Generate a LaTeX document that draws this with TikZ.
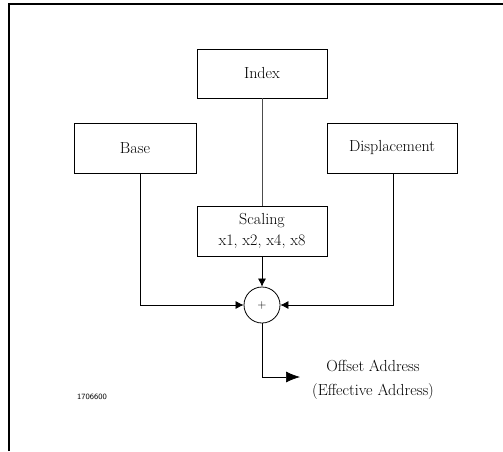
\documentclass[tikz,border=0pt]{standalone}
\usepackage{fontspec}
\usetikzlibrary{arrows.meta}
\tikzset{
  x=1pt, y=-1pt,
  blockbox/.style={draw, line width=0.9pt, minimum width=130pt, minimum height=50pt,
    inner sep=0pt, font=\fontsize{16}{21}\selectfont, align=center},
  adder/.style={draw, circle, line width=0.8pt, minimum size=36pt, inner sep=0pt,
    font=\fontsize{12}{12}\selectfont},
  feed/.style={line width=0.7pt, -{Latex[length=8pt,width=8pt]}},
  outarrow/.style={line width=0.7pt, -{Latex[length=14pt,width=11pt]}},
  label/.style={font=\fontsize{16}{24}\selectfont, align=center, inner sep=0pt}
}
\begin{document}
\begin{tikzpicture}
  \useasboundingbox (0,0) rectangle (503,451);
  % frame edges
  \draw[line width=1.4pt] (9,451) -- (9,4) -- (503,4);

  % address components
  \node[blockbox, minimum height=49pt] (index) at (262,73.5) {Index};
  \node[blockbox, minimum width=122pt] (base) at (135,148) {Base};
  \node[blockbox] (disp) at (392,148) {Displacement};
  \node[blockbox] (scale) at (262,231) {Scaling\\x1, x2, x4, x8};
  \node[adder] (sum) at (262,305) {+};

  % result label
  \node[label] (out) at (373,380) {Offset Address\\(Effective Address)};
  \node[font=\sffamily\fontsize{8}{9}\selectfont, inner sep=0pt] (fig) at (92,397) {1706600};

  % connectors
  \draw[line width=0.6pt, black!70] (index.south) -- (scale.north);
  \draw[feed] (base.south -| 140,0) |- (sum.west);
  \draw[feed] (disp.south -| 393,0) |- (sum.east);
  \draw[feed] (scale.south) -- (sum.north);
  \coordinate (tip) at (300,377);
  \draw[outarrow] (sum.south) |- (tip);
\end{tikzpicture}
\end{document}
